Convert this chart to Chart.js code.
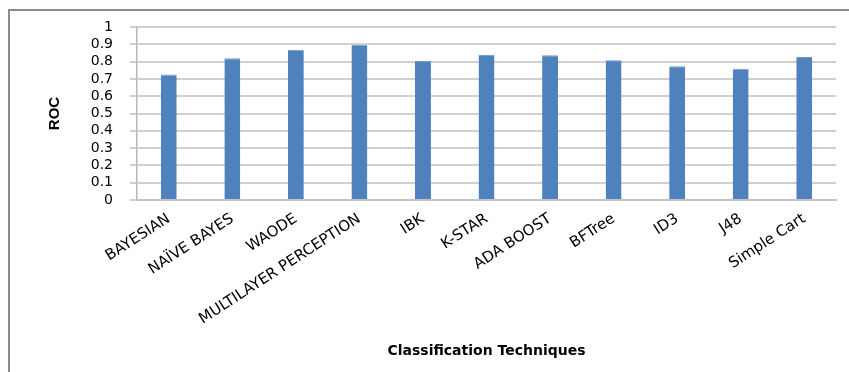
<!DOCTYPE html>
<html>
<head>
<meta charset="utf-8">
<script src="https://cdn.jsdelivr.net/npm/chart.js@4"></script>
<style>
html,body{margin:0;padding:0;background:#fff;}
canvas{display:block;}
</style>
</head>
<body>
<canvas id="c" width="849" height="372"></canvas>
<script>
const categories = ["BAYESIAN","NAÏVE BAYES","WAODE","MULTILAYER PERCEPTION","IBK","K-STAR","ADA BOOST","BFTree","ID3","J48","Simple Cart"];
const rocValues = [0.725,0.819,0.869,0.898,0.804,0.840,0.837,0.808,0.773,0.758,0.827];
const yTicks = [0,0.1,0.2,0.3,0.4,0.5,0.6,0.7,0.8,0.9,1];
const xTitle = "Classification Techniques";
const yTitle = "ROC";

const frame = {
  id:'frame',
  beforeDraw(chart){
    const ctx = chart.ctx;
    ctx.save();
    ctx.strokeStyle = '#8a8a8a';
    ctx.lineWidth = 2;
    ctx.beginPath();
    ctx.moveTo(9, 372);
    ctx.lineTo(9, 10);
    ctx.lineTo(849, 10);
    ctx.stroke();
    ctx.restore();
  }
};

new Chart(document.getElementById('c'), {
  type:'bar',
  data:{
    labels:categories,
    datasets:[{
      data:rocValues,
      backgroundColor:'#4F81BD',
      borderColor:'#7099cb',
      borderWidth:{top:1,left:0,right:0,bottom:0},
      barPercentage:0.25,
      categoryPercentage:1
    }]
  },
  options:{
    responsive:false,
    animation:false,
    layout:{padding:{top:27,right:13,left:0,bottom:0}},
    plugins:{legend:{display:false},tooltip:{enabled:false}},
    scales:{
      x:{
        afterFit(s){ s.height = 172; },
        grid:{display:false, drawTicks:false},
        border:{display:true,color:'#c4c4c4',width:2},
        ticks:{
          color:'#000',
          font:{family:'DejaVu Sans', size:15},
          minRotation:33, maxRotation:33,
          autoSkip:false, padding:10
        },
        title:{display:true,text:xTitle,color:'#000',
          font:{family:'DejaVu Sans',size:14,weight:'bold'},
          padding:{top:0,bottom:12}}
      },
      y:{
        min:0,max:1,
        afterFit(s){ s.width = 137; },
        afterBuildTicks(s){ s.ticks = yTicks.map(v=>({value:v})); },
        grid:{color:'#d0d0d0',lineWidth:2,tickLength:7,drawTicks:true},
        border:{display:true,color:'#b8b8b8',width:1.5},
        ticks:{
          color:'#000',
          font:{family:'DejaVu Sans',size:14},
          padding:17,
          autoSkip:false,
          callback:v=>String(Math.round(v*10)/10)
        },
        title:{display:true,text:yTitle,color:'#000',
          font:{family:'Liberation Sans',size:15,weight:'bold'},
          padding:{top:46,bottom:0}}
      }
    }
  },
  plugins:[frame]
});
</script>
</body>
</html>
